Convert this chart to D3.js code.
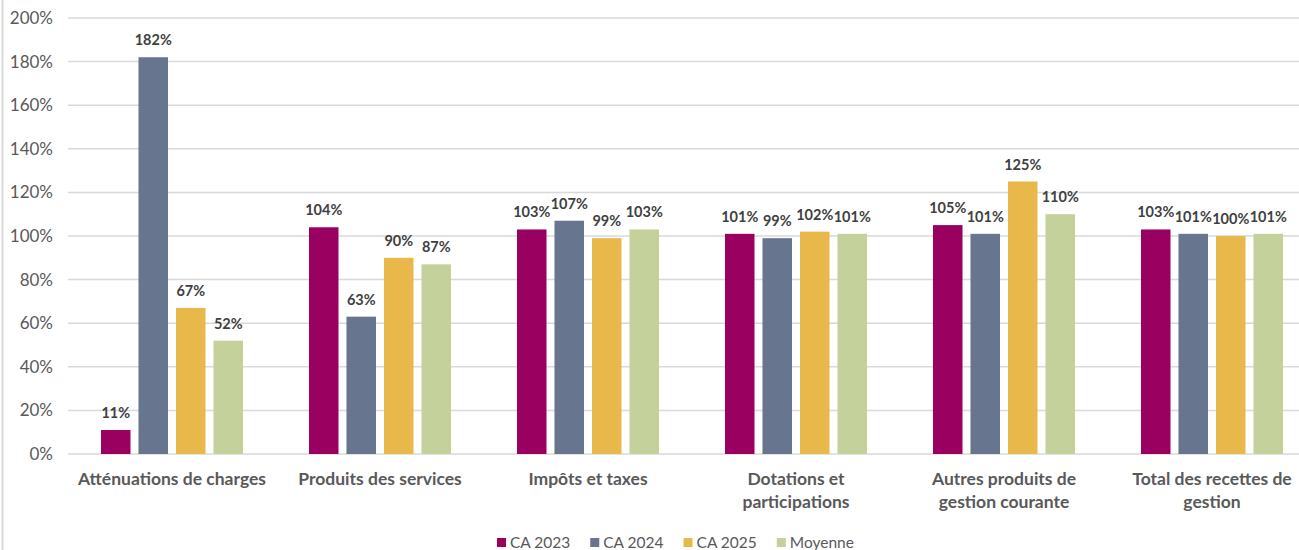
<!DOCTYPE html>
<html>
<head>
<meta charset="utf-8">
<script src="https://cdn.jsdelivr.net/npm/d3@7"></script>
<style>
  body { margin: 0; background: #fff; }
  svg { display: block; font-family: Lato, "Open Sans", sans-serif; }
</style>
</head>
<body>
<svg id="chart" width="1299" height="550"></svg>
<script>
// data
const categories = [
    ['Atténuations de charges'],
    ['Produits des services'],
    ['Impôts et taxes'],
    ['Dotations et', 'participations'],
    ['Autres produits de', 'gestion courante'],
    ['Total des recettes de', 'gestion']
];
const series = ['CA 2023', 'CA 2024', 'CA 2025', 'Moyenne'];
const colors = ['#990060', '#67758f', '#e8b84b', '#c5d19b'];
const ca2023 = [11, 104, 103, 101, 105, 103];
const ca2024 = [182, 63, 107, 99, 101, 101];
const ca2025 = [67, 90, 99, 102, 125, 100];
const moyenne = [52, 87, 103, 101, 110, 101];
const yTicks = [0, 20, 40, 60, 80, 100, 120, 140, 160, 180, 200];

const values = [ca2023, ca2024, ca2025, moyenne];
const svg = d3.select('#chart');

// left frame line
svg.append('line')
    .attr('x1', 2.5).attr('x2', 2.5)
    .attr('y1', 0).attr('y2', 550)
    .attr('stroke', '#d9d9d9').attr('stroke-width', 2);

const x0 = d3.scaleBand()
    .domain(d3.range(categories.length))
    .range([68, 1316]);

const x1 = d3.scaleBand()
    .domain(series)
    .range([-75, 75])
    .paddingInner(0.213)
    .paddingOuter(0.1065);

const y = d3.scaleLinear()
    .domain([0, 200])
    .range([454, 18]);

// gridlines + tick labels
let grid = svg.append('g');
grid.selectAll('line')
    .data(yTicks)
    .enter()
    .append('line')
    .attr('x1', 68).attr('x2', 1299)
    .attr('y1', d => y(d)).attr('y2', d => y(d))
    .attr('stroke', '#d9d9d9')
    .attr('stroke-width', 1.5);

grid.selectAll('text')
    .data(yTicks)
    .enter()
    .append('text')
    .attr('x', 53)
    .attr('y', d => y(d))
    .attr('dy', '0.35em')
    .attr('text-anchor', 'end')
    .attr('font-size', 17)
    .attr('fill', '#595959')
    .text(d => d + '%');

// bars
let groups = svg.selectAll('.cat')
    .data(categories)
    .enter()
    .append('g')
    .classed('cat', true)
    .attr('transform', (d, i) => `translate(${x0(i) + x0.bandwidth() / 2},0)`);

groups.each(function (cat, i) {
    let g = d3.select(this);
    let rows = series.map((s, k) => ({ name: s, value: values[k][i], color: colors[k] }));

    g.selectAll('rect')
        .data(rows)
        .enter()
        .append('rect')
        .attr('x', d => x1(d.name))
        .attr('width', x1.bandwidth())
        .attr('y', d => y(d.value))
        .attr('height', d => y(0) - y(d.value))
        .attr('fill', d => d.color);

    g.selectAll('text.val')
        .data(rows)
        .enter()
        .append('text')
        .classed('val', true)
        .attr('x', d => x1(d.name) + x1.bandwidth() / 2)
        .attr('y', d => y(d.value) - 12)
        .attr('text-anchor', 'middle')
        .attr('font-size', 14.5)
        .attr('font-weight', 'bold')
        .attr('fill', '#404040')
        .text(d => d.value + '%');

    // category label
    let lbl = g.append('text')
        .attr('text-anchor', 'middle')
        .attr('font-size', 17.5)
        .attr('font-weight', 'bold')
        .attr('fill', '#595959');
    cat.forEach((line, j) => {
        lbl.append('tspan')
            .attr('x', 0)
            .attr('y', 485 + j * 23)
            .text(line);
    });
});

// legend
let legend = svg.append('g');
let lx = 0;
series.forEach((s, k) => {
    let item = legend.append('g').attr('transform', `translate(${lx},0)`);
    item.append('rect')
        .attr('x', 0).attr('y', 538)
        .attr('width', 9).attr('height', 9)
        .attr('fill', colors[k]);
    let t = item.append('text')
        .attr('x', 13).attr('y', 548)
        .attr('font-size', 15.5)
        .attr('fill', '#595959')
        .text(s);
    lx += 13 + t.node().getComputedTextLength() + 20;
});
let legendW = lx - 20;
legend.attr('transform', `translate(${497},0)`);
</script>
</body>
</html>
